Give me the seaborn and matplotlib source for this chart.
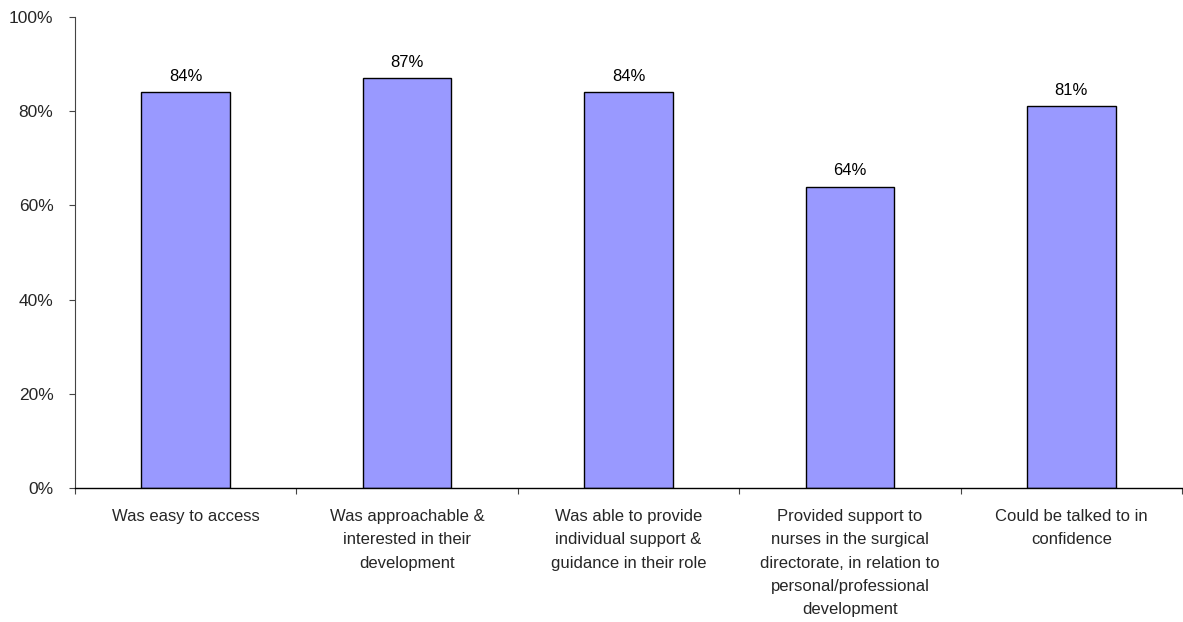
import matplotlib
matplotlib.use("Agg")
import matplotlib.pyplot as plt
import seaborn as sns
import pandas as pd
from matplotlib.ticker import FixedLocator, PercentFormatter

categories = [
    "Was easy to access",
    "Was approachable &\ninterested in their\ndevelopment",
    "Was able to provide\nindividual support &\nguidance in their role",
    "Provided support to\nnurses in the surgical\ndirectorate, in relation to\npersonal/professional\ndevelopment",
    "Could be talked to in\nconfidence",
]
values = [84, 87, 84, 64, 81]
y_ticks = [0, 20, 40, 60, 80, 100]

sns.set_theme(style="white")
plt.rcParams["font.family"] = ["Liberation Sans", "DejaVu Sans"]

df = pd.DataFrame({"category": categories, "value": values})

fig = plt.figure(figsize=(11.83, 6.22), dpi=100)
ax = fig.add_axes([75 / 1183, 1 - 488 / 622, 1107 / 1183, (488 - 17) / 622])

sns.barplot(data=df, x="category", y="value", color="#9999FF", saturation=1,
            edgecolor="black", linewidth=1.0, width=0.4, ax=ax)

ax.bar_label(ax.containers[0], fmt="%d%%", padding=6, fontsize=12, color="black")

ax.set_xlim(-0.5, len(categories) - 0.5)
ax.set_ylim(0, 100)
ax.set_yticks(y_ticks)
ax.yaxis.set_major_formatter(PercentFormatter(decimals=0))
ax.set_xlabel("")
ax.set_ylabel("")

# category boundaries carry the tick marks, labels sit centred below each bar
ax.xaxis.set_minor_locator(FixedLocator([i - 0.5 for i in range(len(categories) + 1)]))
ax.tick_params(axis="x", which="major", length=0, pad=15, labelsize=12)
ax.tick_params(axis="x", which="minor", bottom=True, length=4.5, width=0.8,
               direction="out", color="#444444")
ax.tick_params(axis="y", which="major", left=True, length=4.5, width=0.8,
               direction="out", color="#444444", pad=11, labelsize=12.5)
for lbl in ax.get_xticklabels():
    lbl.set_multialignment("center")
    lbl.set_linespacing(1.7)
    lbl.set_verticalalignment("top")

for side in ["top", "right"]:
    ax.spines[side].set_visible(False)
ax.spines["left"].set_color("#444444")
ax.spines["bottom"].set_color("black")
ax.spines["left"].set_linewidth(0.8)
ax.spines["bottom"].set_linewidth(1.0)

fig.savefig("out.png", dpi=100, facecolor="white")
